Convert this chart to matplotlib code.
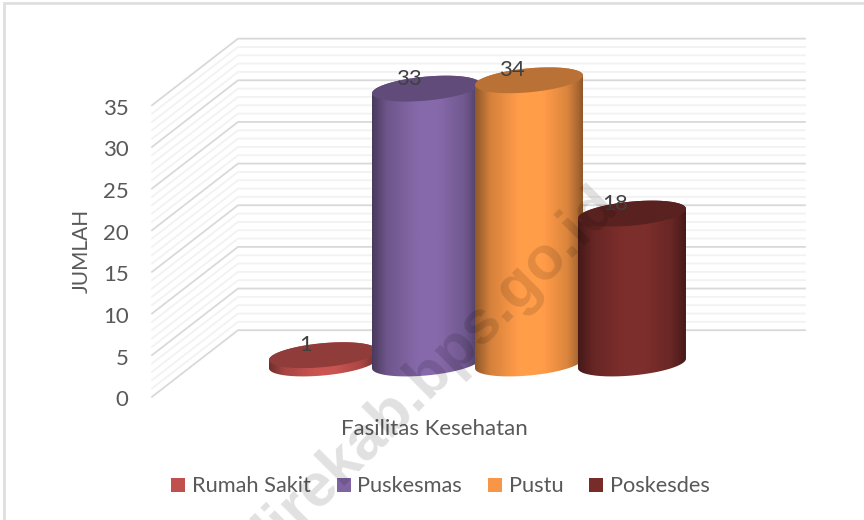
import numpy as np
import matplotlib
matplotlib.use("Agg")
import matplotlib.pyplot as plt
from matplotlib.colors import to_rgb
from matplotlib.patches import Patch, PathPatch, Polygon
from matplotlib.path import Path

categories = ["Rumah Sakit", "Puskesmas", "Pustu", "Poskesdes"]
values = [1, 33, 34, 18]
colors = ["#C0504D", "#8064A2", "#F79646", "#772C2A"]
y_ticks = [0, 5, 10, 15, 20, 25, 30, 35]
x_title = "Fasilitas Kesehatan"
y_title = "JUMLAH"
watermark = "direkab.bps.go.id"

plt.rcParams["font.family"] = ["Lato", "DejaVu Sans"]

W, H = 864, 520
PX = 8.33  # pixels per unit of JUMLAH
BASE_Y = 363.5  # pixel row of value 0 at the cylinder centres
DEPTH = 4.0  # wall offset, in value units


def ellipse(cx, v, start=0.0, stop=2 * np.pi, half_w=54, half_h=12, tilt=4.8):
    # sheared ellipse, the 3d view leans it up to the right
    t = np.linspace(start, stop, 80)
    x = cx + half_w * np.cos(t)
    y = v + (tilt * np.cos(t) - half_h * np.sin(t)) / PX
    return np.column_stack([x, y])


def shaded_strip(color):
    c = np.array(to_rgb(color))
    pos = [0.0, 0.04, 0.14, 0.42, 0.62, 0.86, 0.96, 1.0]
    amt = [0.58, 0.66, 0.86, 1.05, 1.05, 0.88, 0.68, 0.58]
    u = np.linspace(0, 1, 200)
    shade = np.interp(u, pos, amt)
    return np.clip(shade[:, None] * c, 0, 1)[None, :, :]


def draw_cylinder(ax, cx, v, color, zorder):
    half_w = 54
    # upper half of the top ellipse, then lower half of the bottom one
    top = ellipse(cx, v, np.pi, 2 * np.pi)
    bottom = ellipse(cx, 0, 0, np.pi)
    outline = np.vstack([top, bottom, top[:1]])
    body = PathPatch(Path(outline), transform=ax.transData, facecolor="none", edgecolor="none")
    ax.add_patch(body)
    img = ax.imshow(
        shaded_strip(color),
        extent=[cx - half_w, cx + half_w, -3, v + 3],
        aspect="auto",
        zorder=zorder,
        interpolation="bilinear",
    )
    img.set_clip_path(body)
    cap_color = np.array(to_rgb(color)) * 0.75
    ax.add_patch(Polygon(ellipse(cx, v), closed=True, facecolor=cap_color, edgecolor="none", zorder=zorder + 0.1))


fig = plt.figure(figsize=(W / 100, H / 100), dpi=100, facecolor="white")
ax = fig.add_axes([0, 0, 1, 1])
ax.axis("off")

y_low = (BASE_Y - H) / PX
y_high = BASE_Y / PX

# back wall and side wall grid lines
for v in range(0, max(y_ticks) + 1):
    major = v % 5 == 0
    col = "#D9D9D9" if major else "#F2F2F2"
    ax.plot([152, 238, 805], [v - DEPTH, v + DEPTH, v + DEPTH], color=col, lw=1.3, zorder=2 if major else 1,
            solid_joinstyle="miter")

for i, (v, color) in enumerate(zip(values, colors)):
    cx = 323 + 103 * i
    draw_cylinder(ax, cx, v, color, 3 + i)

for i, v in enumerate(values):
    cx = 323 + 103 * i
    ax.text(cx - 17, v + 1.2, str(v), ha="center", va="center", fontsize=16, color="#404040", zorder=10)

for t in y_ticks:
    ax.text(128.5, t - DEPTH - 0.4, str(t), ha="right", va="center", fontsize=16, color="#595959")

ax.text(434, -7.85, x_title, ha="center", va="center", fontsize=16, color="#595959")
ax.text(82, 13.55, y_title, ha="center", va="center", rotation=90, fontsize=15, color="#595959")

handles = [Patch(facecolor=c, edgecolor="none", label=n) for c, n in zip(colors, categories)]
ax.legend(
    handles=handles,
    ncol=4,
    loc="center",
    bbox_to_anchor=(440.5 / W, 1 - 486.5 / H),
    frameon=False,
    fontsize=15.7,
    labelcolor="#595959",
    handlelength=0.64,
    handleheight=0.64,
    handletextpad=0.3,
    columnspacing=1.2,
)

# chart frame, only top and left show in the crop
ax.plot([4, 4, W], [y_low, y_high - 0.36, y_high - 0.36], color="#DFDFDF", lw=2, zorder=1,
        solid_joinstyle="miter")

ax.set_xlim(0, W)
ax.set_ylim(y_low, y_high)

# page watermark across the chart
ax.text(
    620, (BASE_Y - 208) / PX, watermark, rotation=45, rotation_mode="anchor", ha="right", va="baseline",
    fontsize=44, fontweight="bold", family=["Liberation Sans"], color="black", alpha=0.12, zorder=20,
)

fig.savefig("out.png", dpi=100)
